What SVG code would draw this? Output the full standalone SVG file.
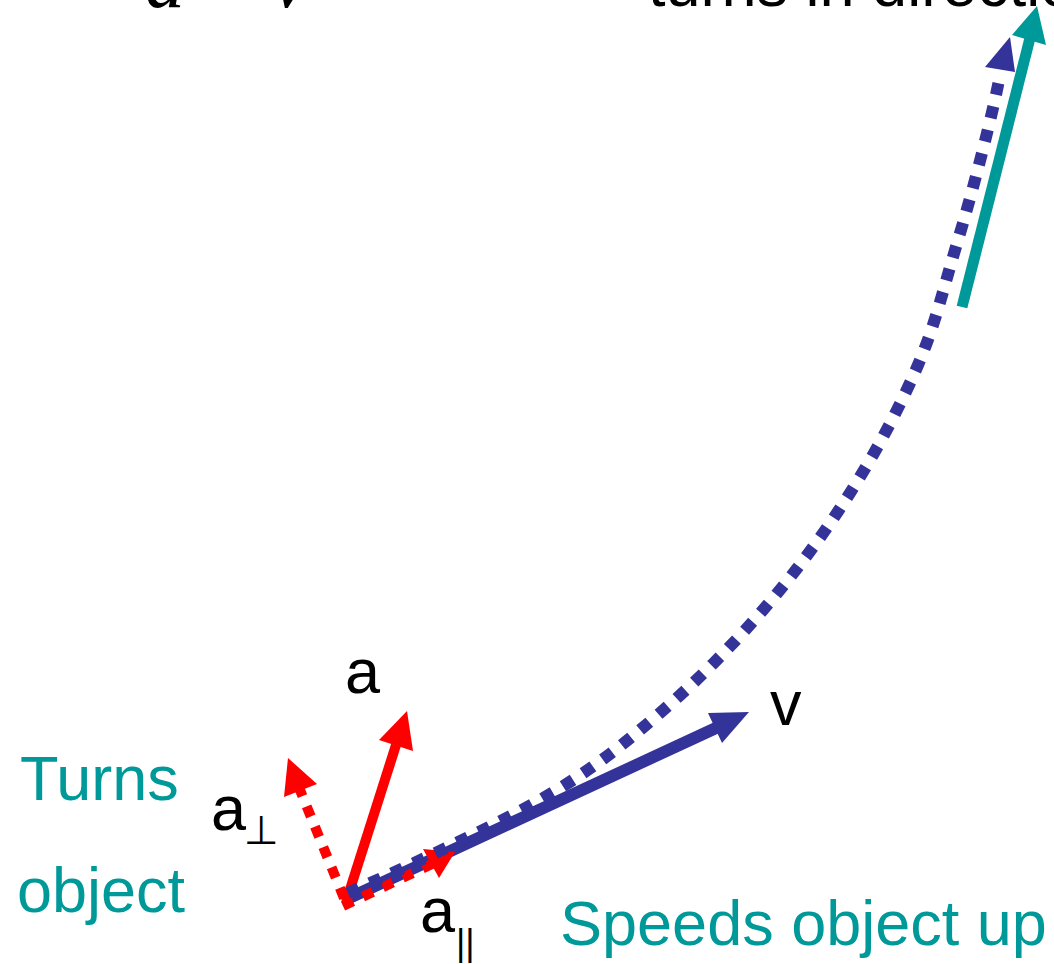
<svg xmlns="http://www.w3.org/2000/svg" width="1054" height="964" viewBox="0 0 1054 964">
<style>
.lbl{font-family:"Liberation Sans",Arial,"DejaVu Sans",sans-serif;font-size:63px;fill:#000}
.teal{fill:#009999}
.sym{font-family:"DejaVu Sans",sans-serif}
.ser{font-family:"Liberation Serif","DejaVu Serif",serif;font-style:italic;font-size:80px;fill:#000}
.red{stroke:#ff0000;fill:none;stroke-width:10}
.redh{fill:#ff0000}
.blue{stroke:#333399;fill:none;stroke-width:12}
.blueh{fill:#333399}
.dotr{stroke-dasharray:11 11}
.dotb{stroke-dasharray:12 12}
.tealL{stroke:#009999;fill:none;stroke-width:11}
.tealh{fill:#009999}
</style>
<rect width="1054" height="964" fill="#fff"/>
<g id="title">
<text class="ser" x="145" y="7">a</text>
<text x="198" y="7" style="font-family:'DejaVu Serif',serif;font-size:76px">∠</text>
<text class="ser" x="272" y="7">v</text>
<text class="lbl" x="648" y="6">turns in direction</text>
</g>
<g id="connectors">
<path id="vel" class="blue" d="M347,899 L716,728"/>
<polygon class="blueh" points="749,712 708,713 722,743"/>
<path id="acc" class="red" d="M346,902 L396,745"/>
<polygon class="redh" points="407,711 379,740 413,751"/>
<path id="aperp" class="red dotr" d="M344,898 L300,790"/>
<polygon class="redh" points="288,758 284,797 317,784"/>
<path id="apar" class="red dotr" d="M343,906 L432,864"/>
<polygon class="redh" points="455,852 423,849 439,878"/>
<path id="path" class="blue dotb" d="M348,893 C380,879 488,830 540,800 C592,770 623,745 660,713 C697,681 731,647 763,610 C795,573 824,534 850,493 C876,452 900,407 918,365 C936,323 944,286 958,240 C972,194 993,113 1000,75"/>
<polygon class="blueh" points="1010,37 985,67 1015,72"/>
<path id="tang" class="tealL" d="M962,307 L1030,38"/>
<polygon class="tealh" points="1037,6 1012,35 1046,45"/>
</g>
<g id="label-a"><text class="lbl" x="345" y="693">a</text></g>
<g id="label-v"><text class="lbl" x="770" y="725">v</text></g>
<g id="label-aperp"><text class="lbl" x="211" y="830">a</text><text class="sym" x="244" y="844" style="font-size:40px">⊥</text></g>
<g id="label-apar"><text class="lbl" x="420" y="932">a</text><text class="lbl" x="456" y="955" style="font-size:36px">||</text></g>
<g id="turns"><text class="lbl teal" x="20" y="800">Turns</text><text class="lbl teal" x="17" y="912">object</text></g>
<g id="speeds"><text class="lbl teal" x="560" y="945">Speeds object up</text></g>
</svg>
